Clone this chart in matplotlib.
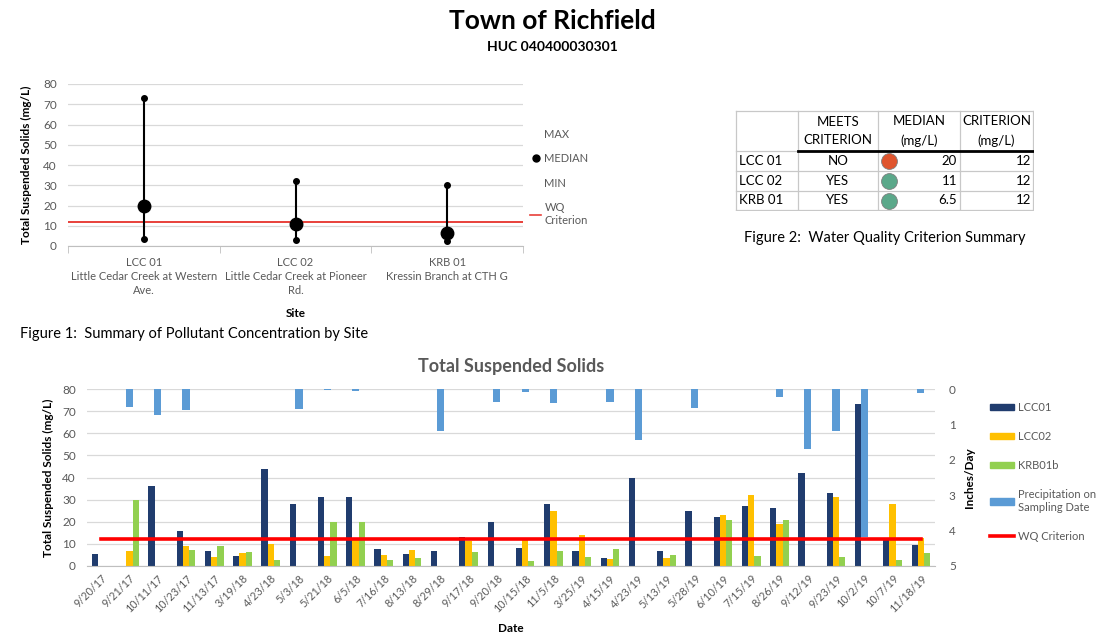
"""Town of Richfield TSS summary sheet: site range plot, criterion table, sampling-date bars."""
import matplotlib

matplotlib.use("Agg")
import matplotlib.pyplot as plt
import numpy as np
from matplotlib.lines import Line2D
from matplotlib.patches import Patch

plt.rcParams["font.family"] = ["Lato", "DejaVu Sans"]

W, H = 1099, 636
GRAY_TXT = "#595959"
GRID = "#D9D9D9"

# --- Figure 1: summary by site ---
SITES = ["LCC 01", "LCC 02", "KRB 01"]
SITE_NAMES = [
    "Little Cedar Creek at Western\nAve.",
    "Little Cedar Creek at Pioneer\nRd.",
    "Kressin Branch at CTH G",
]
SITE_MAX = [73, 32, 30]
SITE_MEDIAN = [20, 11, 6.5]
SITE_MIN = [3.6, 3, 2.4]
WQ_CRITERION = 12

# --- Figure 2: criterion table ---
MEETS = ["NO", "YES", "YES"]
CRITERION = [12, 12, 12]
MEETS_COLORS = {"NO": "#E0552E", "YES": "#5BA88A"}

# --- Bottom chart: TSS per sampling date ---
DATES = ["9/20/17", "9/21/17", "10/11/17", "10/23/17", "11/13/17", "3/19/18",
         "4/23/18", "5/3/18", "5/21/18", "6/5/18", "7/16/18", "8/13/18",
         "8/29/18", "9/17/18", "9/20/18", "10/15/18", "11/5/18", "3/25/19",
         "4/15/19", "4/23/19", "5/13/19", "5/28/19", "6/10/19", "7/15/19",
         "8/26/19", "9/12/19", "9/23/19", "10/2/19", "10/7/19", "11/18/19"]
nan = np.nan
LCC01 = [5.4, nan, 36, 16, 6.6, 4.5, 44, 28, 31, 31, 7.7, 5.4, 6.8, 13, 20,
         8.3, 28, 6.9, 3.6, 40, 6.6, 25, 22, 27, 26, 42, 33, 73, 12, 9.7]
LCC02 = [nan, 7, nan, 9.2, 4.2, 6, 9.8, nan, 4.5, 12.5, 5.1, 7.1, nan, 11.3, nan,
         11.8, 25, 14, 3, nan, 3.5, nan, 23, 32, 19, nan, 31, nan, 28, 12.5]
KRB01B = [nan, 30, nan, 7.4, 8.9, 6.5, 2.7, nan, 20, 20, 2.9, 3.5, nan, 6.5, nan,
          2.4, 6.8, 4.1, 7.5, nan, 5.1, nan, 21, 4.7, 21, nan, 3.9, nan, 2.9, 6]
PRECIP = [nan, 0.51, 0.74, 0.59, nan, nan, nan, 0.56, 0.03, 0.06, nan, nan, 1.19,
          nan, 0.38, 0.08, 0.4, nan, 0.36, 1.43, nan, 0.54, nan, nan, 0.24, 1.70,
          1.18, 4.19, nan, 0.1]

C_LCC01 = "#203C6E"
C_LCC02 = "#FFC000"
C_KRB = "#92D050"
C_PRECIP = "#5B9BD5"
C_WQ = "#FF0000"


def px_axes(fig, x0, y0, x1, y1):
    """Add axes from pixel box (left, top, right, bottom)."""
    return fig.add_axes([x0 / W, 1 - y1 / H, (x1 - x0) / W, (y1 - y0) / H])


fig = plt.figure(figsize=(W / 100, H / 100), dpi=100)

fig.text(552 / W, 1 - 21 / H, "Town of Richfield", ha="center", va="center",
         fontsize=19, fontweight="bold")
fig.text(552 / W, 1 - 47 / H, "HUC 040400030301", ha="center", va="center",
         fontsize=10, fontweight="bold")

# ---------------- Figure 1 ----------------
ax1 = px_axes(fig, 68, 84, 523, 246)
xs = np.arange(len(SITES))
ax1.vlines(xs, SITE_MIN, SITE_MAX, color="black", linewidth=1.5, zorder=3)
ax1.plot(xs, SITE_MAX, "o", color="black", markersize=4, zorder=4)
ax1.plot(xs, SITE_MIN, "o", color="black", markersize=4, zorder=4)
ax1.plot(xs, SITE_MEDIAN, "o", color="black", markersize=9, zorder=4)
ax1.axhline(WQ_CRITERION, color="#E8403A", linewidth=1.4, zorder=2)
ax1.set_xlim(-0.5, len(SITES) - 0.5)
ax1.set_ylim(0, 80)
ax1.set_yticks(range(0, 81, 10))
ax1.set_xticks(xs)
ax1.set_xticklabels([f"{s}\n{n}" for s, n in zip(SITES, SITE_NAMES)],
                    fontsize=8, color=GRAY_TXT, linespacing=1.35)
ax1.set_xticks(np.arange(-0.5, len(SITES), 1.0), minor=True)
ax1.tick_params(axis="x", which="major", length=0, pad=8)
ax1.tick_params(axis="x", which="minor", length=5, color="#BFBFBF")
ax1.tick_params(axis="y", length=0, labelsize=8.5, labelcolor=GRAY_TXT, pad=8)
ax1.grid(axis="y", color=GRID, linewidth=0.9)
ax1.set_axisbelow(True)
for side in ("top", "right", "left"):
    ax1.spines[side].set_visible(False)
ax1.spines["bottom"].set_color("#BFBFBF")
ax1.set_ylabel("Total Suspended Solids (mg/L)", fontsize=8.5, fontweight="bold",
               labelpad=8)
ax1.set_xlabel("Site", fontsize=8.5, fontweight="bold", labelpad=8)

legend1 = [
    Line2D([], [], linestyle="none", label="MAX"),
    Line2D([], [], linestyle="none", marker="o", color="black", markersize=5,
           label="MEDIAN"),
    Line2D([], [], linestyle="none", label="MIN"),
    Line2D([], [], color="#E8403A", linewidth=1.2, label="WQ\nCriterion"),
]
fig.legend(handles=legend1, loc="upper left",
           bbox_to_anchor=(530 / W, 1 - 129 / H), frameon=False,
           fontsize=8, labelcolor=GRAY_TXT, handlelength=1.0,
           handletextpad=0.3, labelspacing=1.2, borderaxespad=0, borderpad=0)

fig.text(20 / W, 1 - 334 / H, "Figure 1:  Summary of Pollutant Concentration by Site",
         ha="left", va="center", fontsize=10.5)

# ---------------- Figure 2 (table) ----------------
axt = px_axes(fig, 735, 110, 1034, 211)
axt.set_xlim(735, 1034)
axt.set_ylim(211, 110)
axt.axis("off")
col_edges = [736, 798, 878, 960, 1033]
row_edges = [111, 151, 171, 191, 210]
line_gray = "#C8C8C8"
for xe in col_edges:
    axt.plot([xe, xe], [row_edges[0], row_edges[-1]], color=line_gray, lw=0.9)
for ye in (row_edges[0], row_edges[2], row_edges[3], row_edges[4]):
    axt.plot([col_edges[0], col_edges[-1]], [ye, ye], color=line_gray, lw=0.9)
axt.plot([col_edges[0], col_edges[1]], [row_edges[1]] * 2, color=line_gray, lw=0.9)
axt.plot([col_edges[1], col_edges[-1]], [row_edges[1]] * 2, color="black", lw=2)

headers = ["MEETS\nCRITERION", "MEDIAN\n(mg/L)", "CRITERION\n(mg/L)"]
for i, htxt in enumerate(headers):
    cx = (col_edges[i + 1] + col_edges[i + 2]) / 2
    axt.text(cx, (row_edges[0] + row_edges[1]) / 2, htxt, ha="center",
             va="center", fontsize=9.5, linespacing=1.7)
for r, site in enumerate(SITES):
    cy = (row_edges[r + 1] + row_edges[r + 2]) / 2
    axt.text(col_edges[0] + 3, cy, site, ha="left", va="center", fontsize=9.5)
    axt.text((col_edges[1] + col_edges[2]) / 2, cy, MEETS[r], ha="center",
             va="center", fontsize=9.5)
    axt.scatter([col_edges[2] + 11], [cy], s=130, color=MEETS_COLORS[MEETS[r]],
                edgecolor="#7F7F7F", linewidth=0.6, zorder=3)
    axt.text(col_edges[3] - 3, cy, f"{SITE_MEDIAN[r]:g}", ha="right",
             va="center", fontsize=9.5)
    axt.text(col_edges[4] - 2, cy, f"{CRITERION[r]:g}", ha="right",
             va="center", fontsize=9.5)

fig.text(885 / W, 1 - 238 / H, "Figure 2:  Water Quality Criterion Summary",
         ha="center", va="center", fontsize=10.5)

# ---------------- Bottom chart ----------------
ax = px_axes(fig, 87, 389, 935, 566)
x = np.arange(len(DATES))
bw = 0.22
ax.bar(x - bw, LCC01, bw, color=C_LCC01, label="LCC01")
ax.bar(x, LCC02, bw, color=C_LCC02, label="LCC02")
ax.bar(x + bw, KRB01B, bw, color=C_KRB, label="KRB01b")
ax.set_xlim(-0.5, len(DATES) - 0.5)
ax.set_ylim(0, 80)
ax.set_yticks(range(0, 81, 10))
ax.grid(axis="y", color=GRID, linewidth=0.9)
ax.set_axisbelow(True)
ax.set_xticks(x)
ax.set_xticklabels(DATES, rotation=45, ha="right", rotation_mode="anchor",
                   fontsize=7.8, color=GRAY_TXT)
ax.tick_params(axis="x", length=0, pad=5)
ax.tick_params(axis="y", length=0, labelsize=8.5, labelcolor=GRAY_TXT, pad=8)
for side in ("top", "right", "left"):
    ax.spines[side].set_visible(False)
ax.spines["bottom"].set_color("#BFBFBF")
ax.set_ylabel("Total Suspended Solids (mg/L)", fontsize=8.5, fontweight="bold",
              labelpad=6)
ax.set_xlabel("Date", fontsize=8.5, fontweight="bold", labelpad=6)
ax.set_title("Total Suspended Solids", fontsize=13, fontweight="bold",
             color=GRAY_TXT, pad=12)

ax2 = ax.twinx()
ax2.bar(x, PRECIP, bw * 1.15, color=C_PRECIP, label="Precipitation on\nSampling Date")
ax2.plot(x, [WQ_CRITERION] * len(DATES), color=C_WQ, linewidth=2.6,
         transform=ax.transData, label="WQ Criterion")
ax2.set_ylim(5, 0)
ax2.set_yticks(range(0, 6))
ax2.tick_params(axis="y", length=0, labelsize=8.5, labelcolor=GRAY_TXT, pad=10)
for side in ("top", "right", "left", "bottom"):
    ax2.spines[side].set_visible(False)
ax2.set_ylabel("Inches/Day", fontsize=8.5, fontweight="bold", labelpad=6)

legend2 = [
    Patch(color=C_LCC01, label="LCC01"),
    Patch(color=C_LCC02, label="LCC02"),
    Patch(color=C_KRB, label="KRB01b"),
    Patch(color=C_PRECIP, label="Precipitation on\nSampling Date"),
    Line2D([], [], color=C_WQ, linewidth=2.6, label="WQ Criterion"),
]
fig.legend(handles=legend2, loc="upper left", bbox_to_anchor=(990 / W, 1 - 402 / H),
           frameon=False, fontsize=8, labelcolor=GRAY_TXT, handlelength=2.2,
           handleheight=0.55, handletextpad=0.3, labelspacing=1.62,
           borderaxespad=0, borderpad=0)

fig.savefig("out.png", dpi=100)
